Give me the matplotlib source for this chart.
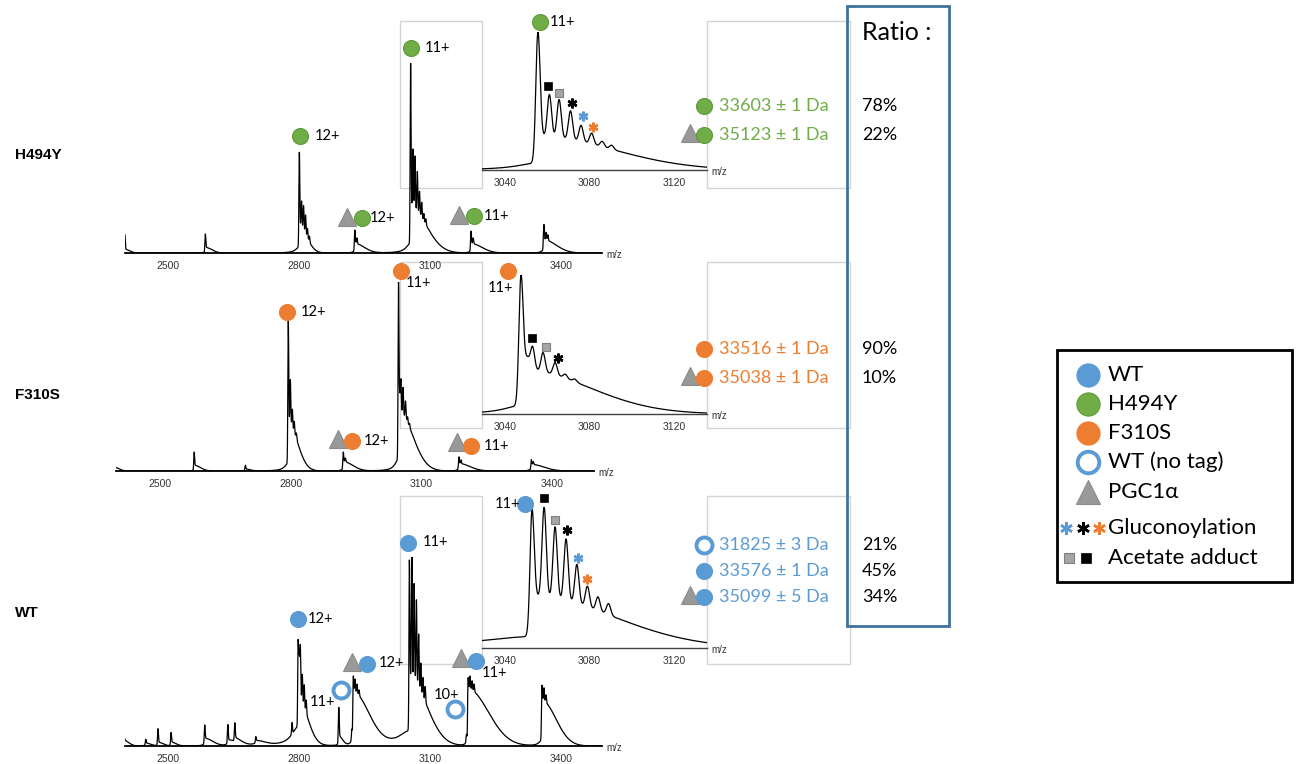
import numpy as np
import matplotlib
matplotlib.use("Agg")
import matplotlib.pyplot as plt
from matplotlib.transforms import offset_copy
from matplotlib.patches import Rectangle

W, H = 1298, 764
FONT = ["Lato", "DejaVu Sans"]

BLUE = "#5B9BD5"
GREEN = "#70AD47"
ORANGE = "#ED7D31"
GREY = "#A5A5A5"
BOX_BLUE = "#41719C"

# ---- spectra: envelopes (onset m/z, tail amp, tail width, foot amp, foot width) and peaks (m/z, height) ----
h494y_env = [(2401, 2, 15, 0.5, 3), (2585.5, 3, 20, 0.5, 4), (2800.5, 14, 25, 3, 10),
             (2927.5, 5, 30, 1, 5), (3055.4, 24, 51, 5, 12), (3193.5, 5, 35, 1, 5),
             (3360, 7, 40, 1.5, 6)]
h494y_peaks = [(2401, 8.5), (2585.5, 7),
               (2800.8, 39), (2805.8, 14), (2810.4, 13), (2815, 10), (2819.5, 5), (2824, 3),
               (2928, 7), (2932.5, 3),
               (3055.6, 76), (3061, 31), (3065.6, 28), (3071, 21), (3076, 12), (3081, 8),
               (3086, 4), (3090.5, 3),
               (3194, 6.5), (3199, 3), (3361, 8), (3366, 4), (3370, 3)]

f310s_env = [(2395, 2, 15, 0.5, 3), (2578.5, 3, 20, 0.5, 4), (2696, 1, 15, 0.3, 3),
             (2794.5, 25, 30, 4, 10), (2920.5, 5, 30, 1, 5), (3047.4, 32, 45, 6, 10),
             (3186, 4, 35, 1, 5), (3352.5, 3.5, 40, 1, 6)]
f310s_peaks = [(2395.5, 3), (2578.5, 7), (2696, 2),
               (2794.5, 55), (2799.3, 24), (2803.8, 10), (2808.3, 6), (2813, 3),
               (2920.8, 5), (2925.5, 2),
               (3047.6, 68), (3050.5, 8), (3053, 17), (3058, 14), (3063.7, 9), (3068.5, 3), (3073, 2),
               (3186.3, 3.5), (3191, 2), (3352.6, 2.5), (3357, 1.5)]

wt_env = [(2399, 3, 15, 1, 4), (2449, 1.5, 15, 0.5, 4), (2477, 2, 15, 0.5, 3), (2507, 2, 15, 0.5, 3),
          (2584, 4, 25, 1, 5), (2637, 3, 20, 1, 5), (2653, 3, 25, 1, 5), (2701, 2.5, 30, 1, 8),
          (2798, 25, 30, 10, 18), (2891, 5, 12, 1, 3), (2924, 28, 50, 3, 6),
          (3052.8, 36, 55, 8, 30), (3187, 30, 65, 3, 5), (3356, 24, 45, 3, 8)]
wt_peaks = [(2399.5, 5), (2449, 2), (2477, 7), (2507, 5), (2584, 7), (2637, 8), (2653, 7.5), (2701, 2),
            (2784, 6), (2798, 30), (2800.5, 22), (2803, 28), (2807.5, 15), (2812, 12), (2816.5, 7),
            (2891, 15),
            (2921, 6), (2924.5, 8.5), (2928.5, 7), (2933, 5), (2937.5, 3),
            (3052.8, 62), (3058.5, 64), (3063.7, 51), (3068.9, 44), (3074, 28), (3079, 15),
            (3084, 10), (3089, 8),
            (3183.5, 4), (3187.5, 6), (3191.8, 7), (3196.5, 5), (3201, 4),
            (3356.5, 8), (3361, 7), (3365.5, 4)]

main_ticks = [2500, 2800, 3100, 3400]
inset_ticks = [3040, 3080, 3120]

# annotations: (m/z of peak, glyph, dx px, dy px, label)
h494y_notes = [(2800.8, "green", 1, 16, ""), (2800.8, "txt", 15, 16, "12+"),
               (3055.6, "green", 0, 15, ""), (3055.6, "txt", 14, 15, "11+"),
               (2928, "tri", -8, 13, ""), (2928, "green", 7, 12, ""), (2928, "txt", 15, 12, "12+"),
               (3194, "tri", -12, 16, ""), (3194, "green", 3, 15, ""), (3194, "txt", 13, 15, "11+")]
h494y_inset = [(3055.6, "green", 2, 10, ""), (3055.6, "txt", 12, 10, "11+"),
               (3061, "sqk", -1, 8, ""), (3065.6, "sqg", 0, 7, ""), (3071, "astk", 1, 8, ""),
               (3076, "astb", 2, 9, ""), (3081, "asto", 1, 6, "")]

f310s_notes = [(2794.5, "orange", -1, 8, ""), (2794.5, "txt", 12, 8, "12+"),
               (3047.6, "orange", 2, 11, ""), (3047.6, "txt", 7, -1, "11+"),
               (2920.8, "tri", -5, 13, ""), (2920.8, "orange", 9, 11, ""), (2920.8, "txt", 20, 11, "12+"),
               (3186.3, "tri", -2, 15, ""), (3186.3, "orange", 12, 11, ""), (3186.3, "txt", 25, 11, "11+")]
f310s_inset = [(3047.6, "orange", -13, 4, ""), (3047.6, "txtc", -21, -13, "11+"),
               (3053, "sqk", 0, 8, ""), (3058, "sqg", 3, 6, ""), (3063.7, "astk", 3, 5, "")]

wt_notes = [(2798, "blue", 0, 20, ""), (2798, "txt", 10, 20, "12+"),
            (2891, "ring", 2, 17, ""), (2891, "txtr", -3, 5, "11+"),
            (2924.5, "tri", -1, 14, ""), (2924.5, "blue", 14, 12, ""), (2924.5, "txt", 25, 13, "12+"),
            (3052.8, "blue", -1, 17, ""), (3052.8, "txt", 13, 18, "11+"),
            (3183.5, "ring", -11, 25, ""), (3183.5, "txtc", -20, 39, "10+"),
            (3191.8, "tri", -9, 18, ""), (3191.8, "blue", 6, 15, ""), (3191.8, "txt", 12, 3, "11+")]
wt_inset = [(3052.8, "blue", -7, 5, ""), (3052.8, "txtr", -12, 5, "11+"),
            (3058.5, "sqk", 0, 9, ""), (3063.7, "sqg", 0, 7, ""), (3068.9, "astk", 1, 9, ""),
            (3074, "astb", 1, 6, ""), (3079, "asto", 0, 7, "")]

names = ["H494Y", "F310S", "WT"]
masses = [[("green", "33603 ± 1 Da", "78%"), ("tri+green", "35123 ± 1 Da", "22%")],
          [("orange", "33516 ± 1 Da", "90%"), ("tri+orange", "35038 ± 1 Da", "10%")],
          [("ring", "31825 ± 3 Da", "21%"), ("blue", "33576 ± 1 Da", "45%"),
           ("tri+blue", "35099 ± 5 Da", "34%")]]
mass_colors = [GREEN, ORANGE, BLUE]
legend_items = [("blue", "WT"), ("green", "H494Y"), ("orange", "F310S"), ("ring", "WT (no tag)"),
                ("tri", "PGC1α"), ("ast3", "Gluconoylation"), ("sq2", "Acetate adduct")]

GLYPH = {
    "green": dict(marker="o", ms=11.5, mfc=GREEN, mec="#5E9A3A", mew=0.8),
    "orange": dict(marker="o", ms=11.5, mfc=ORANGE, mec=ORANGE, mew=0.8),
    "blue": dict(marker="o", ms=11.5, mfc=BLUE, mec=BLUE, mew=0.8),
    "ring": dict(marker="o", ms=11.5, mfc="white", mec=BLUE, mew=2.8),
    "tri": dict(marker="^", ms=13, mfc="#999999", mec="#8A8A8A", mew=0.8),
    "sqk": dict(marker="s", ms=5.5, mfc="black", mec="black", mew=0.5),
    "sqg": dict(marker="s", ms=5.5, mfc=GREY, mec="#7F7F7F", mew=0.8),
    "astk": dict(marker=(6, 2, 0), ms=7, mfc="black", mec="black", mew=1.8),
    "astb": dict(marker=(6, 2, 0), ms=7, mfc=BLUE, mec=BLUE, mew=1.8),
    "asto": dict(marker=(6, 2, 0), ms=7, mfc=ORANGE, mec=ORANGE, mew=1.8),
}

MZ = np.arange(2380, 3520, 0.1)


def spectrum(envelopes, peaks, sig=1.0):
    y = np.zeros_like(MZ)
    for c0, a, s, f, wl in envelopes:
        t = MZ - c0
        left = (a - f) * np.exp(-(t / 1.2) ** 2) + f / (1 + (t / wl) ** 2)
        right = a * np.exp(-(t / s) ** 2)
        y += np.where(t < 0, left, right)
    for c, h in peaks:
        y += h * np.exp(-0.5 * ((MZ - c) / sig) ** 2)
    return y


fig = plt.figure(figsize=(W / 100, H / 100), dpi=100)


def px_axes(x0, y0, x1, y1):
    ax = fig.add_axes([x0 / W, 1 - y1 / H, (x1 - x0) / W, (y1 - y0) / H])
    ax.set_facecolor("none")
    return ax


def style_axis(ax, ticks, lw, color):
    for side in ["top", "left", "right"]:
        ax.spines[side].set_visible(False)
    ax.spines["bottom"].set_linewidth(lw)
    ax.spines["bottom"].set_color(color)
    ax.set_yticks([])
    ax.set_xticks(ticks)
    ax.tick_params(axis="x", length=0, pad=6, labelsize=7.5, labelcolor="#333333")
    for lab in ax.get_xticklabels():
        lab.set_family("Liberation Sans")
    tr = offset_copy(ax.transAxes, fig=fig, x=4, y=-2, units="dots")
    ax.text(1, 0, "m/z", transform=tr, ha="left", va="center", fontsize=7,
            color="#333333", family="Liberation Sans")


def annotate(ax, y, notes):
    for mz, kind, dx, dy, label in notes:
        sel = np.abs(MZ - mz) < 1.0
        top = y[sel].max()
        tr = offset_copy(ax.transData, fig=fig, x=dx, y=dy, units="dots")
        if kind.startswith("txt"):
            ha = {"txt": "left", "txtr": "right", "txtc": "center"}[kind]
            ax.text(mz, top, label, transform=tr, ha=ha, va="center", fontsize=10.5,
                    family=FONT, clip_on=False, zorder=5)
        else:
            ax.plot([mz], [top], transform=tr, clip_on=False, zorder=5, ls="none", **GLYPH[kind])


def panel(y, main_box, main_xlim, inset_box, inset_xlim, notes, inset_notes):
    ax = px_axes(*main_box)
    ax.plot(MZ, y, color="black", lw=0.9)
    ax.set_xlim(main_xlim)
    ax.set_ylim(0, y.max())
    style_axis(ax, main_ticks, 1.3, "black")
    annotate(ax, y, notes)

    ins = px_axes(*inset_box)
    ins.plot(MZ, y, color="black", lw=0.9)
    ins.set_xlim(inset_xlim)
    sel = (MZ > inset_xlim[0]) & (MZ < inset_xlim[1])
    ins.set_ylim(0, y[sel].max())
    style_axis(ins, inset_ticks, 1.0, "#404040")
    annotate(ins, y, inset_notes)


spec = [spectrum(h494y_env, h494y_peaks), spectrum(f310s_env, f310s_peaks), spectrum(wt_env, wt_peaks)]

panel(spec[0], (125, 63, 602, 253), (2401.5, 3493.9), (482, 32, 707, 170), (3029.1, 3135.6),
      h494y_notes, h494y_inset)
panel(spec[1], (116, 282, 594, 471), (2399.0, 3496.4), (482, 275, 707, 414), (3029.1, 3135.6),
      f310s_notes, f310s_inset)
panel(spec[2], (125, 557, 602, 746), (2401.5, 3493.9), (482, 507, 707, 648), (3029.1, 3135.6),
      wt_notes, wt_inset)

# overlay in pixel coordinates for frames, mass labels and legend
ov = fig.add_axes([0, 0, 1, 1], zorder=-1)
ov.set_xlim(0, W)
ov.set_ylim(H, 0)
ov.axis("off")

for top, bot in [(21, 188), (262, 428), (496, 664)]:
    ov.add_patch(Rectangle((400, top), 82, bot - top, fill=False, ec="#D4D4D4", lw=1))
    ov.add_patch(Rectangle((707, top), 143, bot - top, fill=False, ec="#D4D4D4", lw=1))

ov.add_patch(Rectangle((847, 6), 102, 620, fill=False, ec=BOX_BLUE, lw=2))
ov.text(862, 33, "Ratio :", fontsize=18, family=FONT, ha="left", va="center")

for name, yy in zip(names, [155, 395, 613]):
    ov.text(15, yy, name, fontsize=11, weight="bold", family="Liberation Sans", va="center")


def glyph(x, y, kind, scale=1.0):
    g = dict(GLYPH[kind])
    g["ms"] = g["ms"] * scale
    ov.plot([x], [y], ls="none", zorder=3, **g)


rows = [[106, 135], [349, 378], [545, 571, 597]]
for p in range(3):
    for (kind, mtxt, ratio), yy in zip(masses[p], rows[p]):
        if kind.startswith("tri+"):
            glyph(690, yy - 2, "tri")
            glyph(704, yy, kind[4:])
        else:
            glyph(704, yy, kind)
        ov.text(719, yy, mtxt, color=mass_colors[p], fontsize=13, family=FONT, va="center")
        ov.text(862, yy, ratio, color="black", fontsize=13, family=FONT, va="center")

# legend
ov.add_patch(Rectangle((1057, 350), 235, 232, fill=False, ec="black", lw=2))
for (kind, label), yy in zip(legend_items, [375, 404, 433, 462, 492, 528, 558]):
    if kind == "ast3":
        glyph(1066, yy, "astb", 1.3)
        glyph(1083, yy, "astk", 1.3)
        glyph(1099, yy, "asto", 1.3)
    elif kind == "sq2":
        glyph(1069, yy, "sqg", 1.4)
        glyph(1086, yy, "sqk", 1.4)
    elif kind == "ring":
        glyph(1088, yy, kind, 1.35)
    else:
        glyph(1088, yy, kind, 1.45 if kind != "tri" else 1.3)
    ov.text(1108, yy, label, fontsize=16, family=FONT, va="center")

fig.savefig("out.png", dpi=100)
